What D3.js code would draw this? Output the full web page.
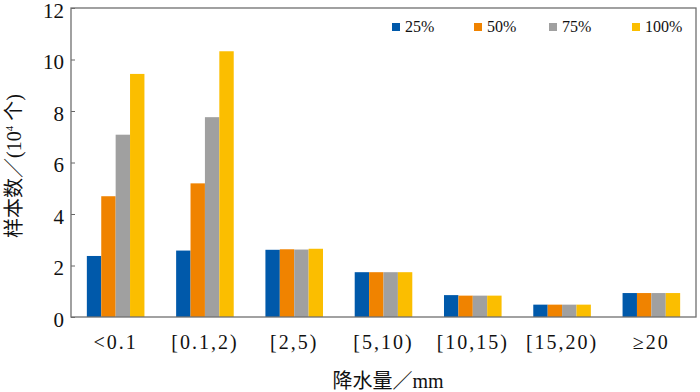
<!DOCTYPE html>
<html>
<head>
<meta charset="utf-8">
<script src="https://cdn.jsdelivr.net/npm/d3@7"></script>
<style>
  body { margin: 0; background: #fff; }
  svg { display: block; }
  text { font-family: "Liberation Serif", "Times New Roman", "DejaVu Serif", "Noto Sans CJK SC", serif; }
</style>
</head>
<body>
<svg id="chart" width="700" height="392"></svg>
<script>
// precipitation classes and sample counts (10^4)
const categories = ["<0.1", "[0.1,2)", "[2,5)", "[5,10)", "[10,15)", "[15,20)", "≥20"];
const seriesNames = ["25%", "50%", "75%", "100%"];
const values25  = [2.37, 2.58, 2.61, 1.74, 0.85, 0.48, 0.93];
const values50  = [4.69, 5.19, 2.63, 1.74, 0.83, 0.48, 0.93];
const values75  = [7.08, 7.76, 2.62, 1.74, 0.83, 0.48, 0.93];
const values100 = [9.44, 10.32, 2.65, 1.74, 0.83, 0.48, 0.93];
const yTicks = [0, 2, 4, 6, 8, 10, 12];

(() => {
  const width = 700, height = 392;
  const margin = { top: 8, right: 4, bottom: 75, left: 71 };
  const innerW = width - margin.left - margin.right;
  const innerH = height - margin.top - margin.bottom;

  const series = [values25, values50, values75, values100];
  const colors = ["#0059AA", "#F08300", "#A0A0A0", "#FBBE00"];

  const svg = d3.select("#chart")
    .append("g")
    .attr("transform", `translate(${margin.left},${margin.top})`);

  const x0 = d3.scaleBand().domain(categories).range([0, innerW])
    .paddingInner(0.355).paddingOuter(0.1775);
  const x1 = d3.scaleBand().domain(seriesNames).range([0, x0.bandwidth()]);
  const y = d3.scaleLinear().domain([0, 12]).range([innerH, 0]);
  const color = d3.scaleOrdinal().domain(seriesNames).range(colors);

  // bars
  const groups = svg.selectAll(".grp")
    .data(categories)
    .join("g")
    .attr("class", "grp")
    .attr("transform", d => `translate(${x0(d)},0)`);

  groups.selectAll("rect")
    .data((c, i) => seriesNames.map((s, j) => ({ key: s, value: series[j][i] })))
    .join("rect")
    .attr("x", d => x1(d.key))
    .attr("y", d => y(d.value))
    .attr("width", x1.bandwidth())
    .attr("height", d => innerH - y(d.value))
    .attr("fill", d => color(d.key));

  // y axis, ticks pointing inward
  const yAxis = svg.append("g")
    .call(d3.axisLeft(y).tickValues(yTicks).tickSize(-4).tickPadding(7));
  yAxis.select(".domain").remove();
  yAxis.attr("font-family", null).attr("font-size", null);
  yAxis.selectAll("line").attr("stroke", "#666");
  yAxis.selectAll("text")
    .attr("fill", "#111")
    .attr("dy", "0.44em")
    .style("font-size", "21px");

  // x axis labels
  const xAxis = svg.append("g")
    .attr("transform", `translate(0,${innerH})`)
    .call(d3.axisBottom(x0).tickSize(0));
  xAxis.select(".domain").remove();
  xAxis.attr("font-family", null).attr("font-size", null);
  xAxis.selectAll("text")
    .attr("y", 32)
    .attr("dy", 0)
    .attr("fill", "#111")
    .style("letter-spacing", "2px")
    .style("font-size", "20px");

  // frame
  svg.append("rect")
    .attr("width", innerW)
    .attr("height", innerH)
    .attr("fill", "none")
    .attr("stroke", "#6f6f6f")
    .attr("stroke-width", 1.3);

  // axis titles
  svg.append("text")
    .attr("x", 388 - margin.left)
    .attr("y", innerH + 71)
    .attr("text-anchor", "middle")
    .attr("fill", "#111")
    .style("font-size", "20px")
    .text("降水量／mm");

  const yTitle = svg.append("text")
    .attr("transform", `translate(${14 - margin.left},${166 - margin.top}) rotate(-90)`)
    .attr("text-anchor", "middle")
    .attr("dy", "0.35em")
    .attr("fill", "#111")
    .style("font-size", "20px");
  yTitle.append("tspan").text("样本数／(10");
  yTitle.append("tspan").attr("font-size", "11px").attr("dy", "-0.75em").text("4");
  yTitle.append("tspan").attr("dy", "0.4em").text(" 个)");

  // legend
  const legendX = [392, 474, 549, 632];
  const leg = svg.append("g")
    .selectAll("g")
    .data(seriesNames)
    .join("g")
    .attr("transform", (d, i) => `translate(${legendX[i] - margin.left},${23 - margin.top})`);
  leg.append("rect")
    .attr("width", 8).attr("height", 8)
    .attr("fill", d => color(d));
  leg.append("text")
    .attr("x", 13).attr("y", 9)
    .attr("fill", "#111")
    .style("font-size", "16px")
    .text(d => d);
})();
</script>
</body>
</html>
